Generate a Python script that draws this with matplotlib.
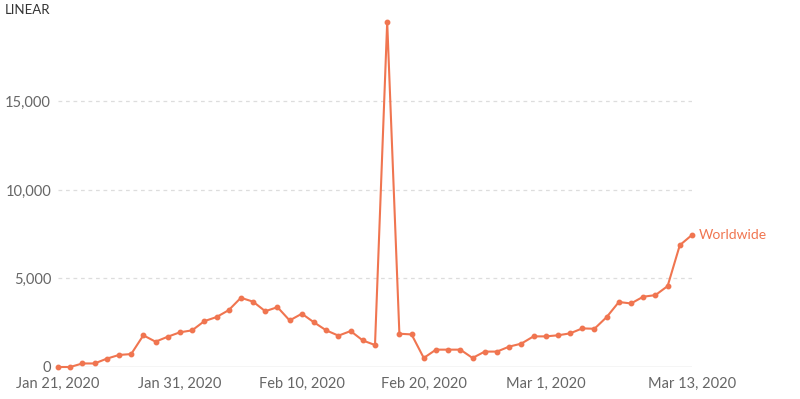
import matplotlib
matplotlib.use("Agg")
import matplotlib.pyplot as plt
import matplotlib.dates as mdates
import pandas as pd

dates = pd.date_range("2020-01-21", "2020-03-13", freq="D")
new_cases = [
    0, 0, 200, 200, 470, 680, 730, 1790, 1430, 1710, 1960,            # Jan 21-31
    2070, 2590, 2820, 3210, 3910, 3690, 3150, 3380, 2630, 3010,       # Feb 1-10
    2520, 2070, 1770, 2030, 1500, 1240, 19500, 1880, 1840, 510,       # Feb 11-20
    980, 980, 980, 510, 870, 870, 1150, 1320, 1730,                   # Feb 21-29
    1730, 1790, 1900, 2180, 2160, 2820, 3670, 3590, 3970, 4060,       # Mar 1-10
    4570, 6880, 7460,                                                 # Mar 11-13
]
series_label = "Worldwide"
y_ticks = [0, 5000, 10000, 15000]
x_tick_dates = ["2020-01-21", "2020-01-31", "2020-02-10", "2020-02-20",
                "2020-03-01", "2020-03-13"]
x_tick_labels = ["Jan 21, 2020", "Jan 31, 2020", "Feb 10, 2020", "Feb 20, 2020",
                 "Mar 1, 2020", "Mar 13, 2020"]

plt.rcParams["font.family"] = ["Lato", "DejaVu Sans"]

color = "#f07550"
fig = plt.figure(figsize=(8, 3.99), dpi=100)
ax = fig.add_axes([58 / 800, 32 / 399, 634 / 800, 347 / 399])

ax.plot(dates, new_cases, color=color, lw=1.5, marker="o", markersize=3.2,
        clip_on=False, zorder=3)

ax.set_xlim(dates[0], dates[-1])
ax.set_ylim(0, 19600)

ax.set_yticks(y_ticks)
ax.set_yticklabels([f"{v:,}" for v in y_ticks])
ax.set_xticks(pd.to_datetime(x_tick_dates))
ax.set_xticklabels(x_tick_labels)

ax.tick_params(axis="both", length=0, labelsize=10.5, labelcolor="#666666")
ax.tick_params(axis="y", pad=5)
ax.tick_params(axis="x", pad=7)

for v in y_ticks[1:]:
    ax.axhline(v, color="#dddddd", lw=0.9, ls=(0, (3, 3)), zorder=1)
ax.axhline(0, color="#cccccc", lw=1.0, zorder=2)

for s in ax.spines.values():
    s.set_visible(False)

ax.annotate(series_label, xy=(dates[-1], new_cases[-1]), xytext=(5, 0),
            textcoords="offset points", color=color, fontsize=10,
            va="center", ha="left", annotation_clip=False)

fig.text(5 / 800, 1 - 10 / 399, "LINEAR", fontsize=9.5, color="#333333",
         va="center", ha="left")

fig.savefig("out.png", dpi=100)
